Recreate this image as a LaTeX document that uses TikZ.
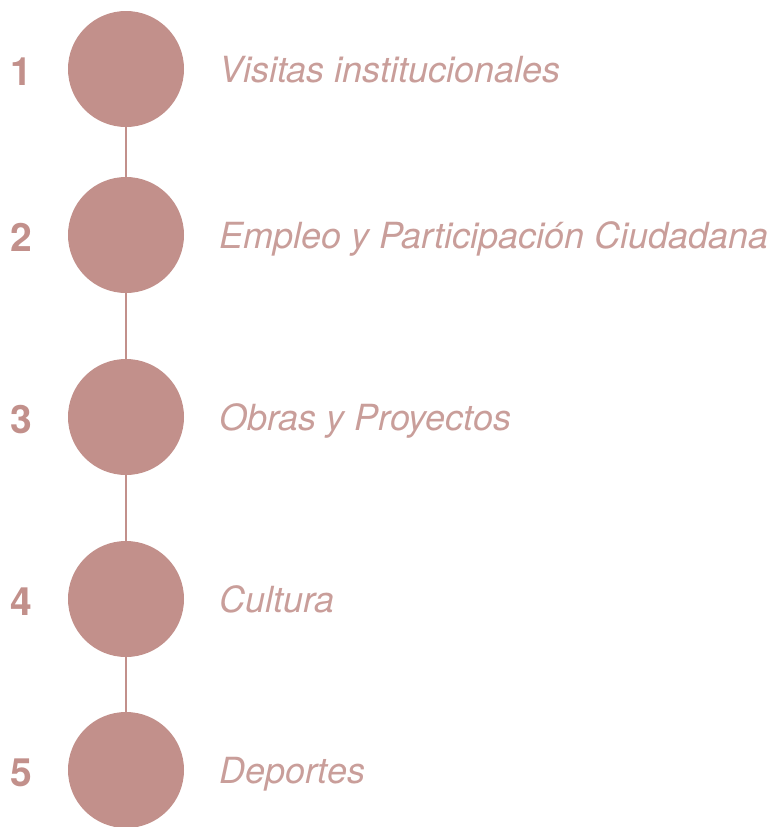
\documentclass[tikz,border=0pt]{standalone}
\usepackage{fontspec}
\setmainfont{TeX Gyre Heros}
\usepackage{xcolor}
\usepackage{tikz}
\usetikzlibrary{positioning, calc}
\definecolor{rose}{HTML}{C2908B}
\definecolor{roselight}{HTML}{C99E9A}
\tikzstyle{dot} = [circle, fill=rose, draw=none, minimum size=116pt, inner sep=0pt]
\tikzstyle{num} = [anchor=base, text=rose, font=\fontsize{39}{39}\selectfont\bfseries, inner sep=0pt]
\tikzstyle{label} = [anchor=base west, text=roselight, font=\fontsize{36}{36}\selectfont\itshape, inner sep=0pt]
\tikzstyle{link} = [rose, line width=1.5pt]

\begin{document}
\begin{tikzpicture}[x=1pt, y=-1pt]
\useasboundingbox (0,0) rectangle (773,827);
% Steps
\node (s1) [dot] at (126,69) {};
\node (s2) [dot] at (126,235) {};
\node (s3) [dot] at (126,417) {};
\node (s4) [dot] at (126,599) {};
\node (s5) [dot] at (126,770) {};

% Numbers
\node (n1) [num] at (21,85) {1};
\node (n2) [num] at (21,251) {2};
\node (n3) [num] at (21,433) {3};
\node (n4) [num] at (21,615) {4};
\node (n5) [num] at (21,786) {5};

% Labels
\node (t1) [label] at (219,82) {Visitas institucionales};
\node (t2) [label] at (219,248) {Empleo y Participación Ciudadana};
\node (t3) [label] at (219,430) {Obras y Proyectos};
\node (t4) [label] at (219,612) {Cultura};
\node (t5) [label] at (219,783) {Deportes};

% Links
\draw [link] (s1) -- (s2);
\draw [link] (s2) -- (s3);
\draw [link] (s3) -- (s4);
\draw [link] (s4) -- (s5);
\end{tikzpicture}
\end{document}
